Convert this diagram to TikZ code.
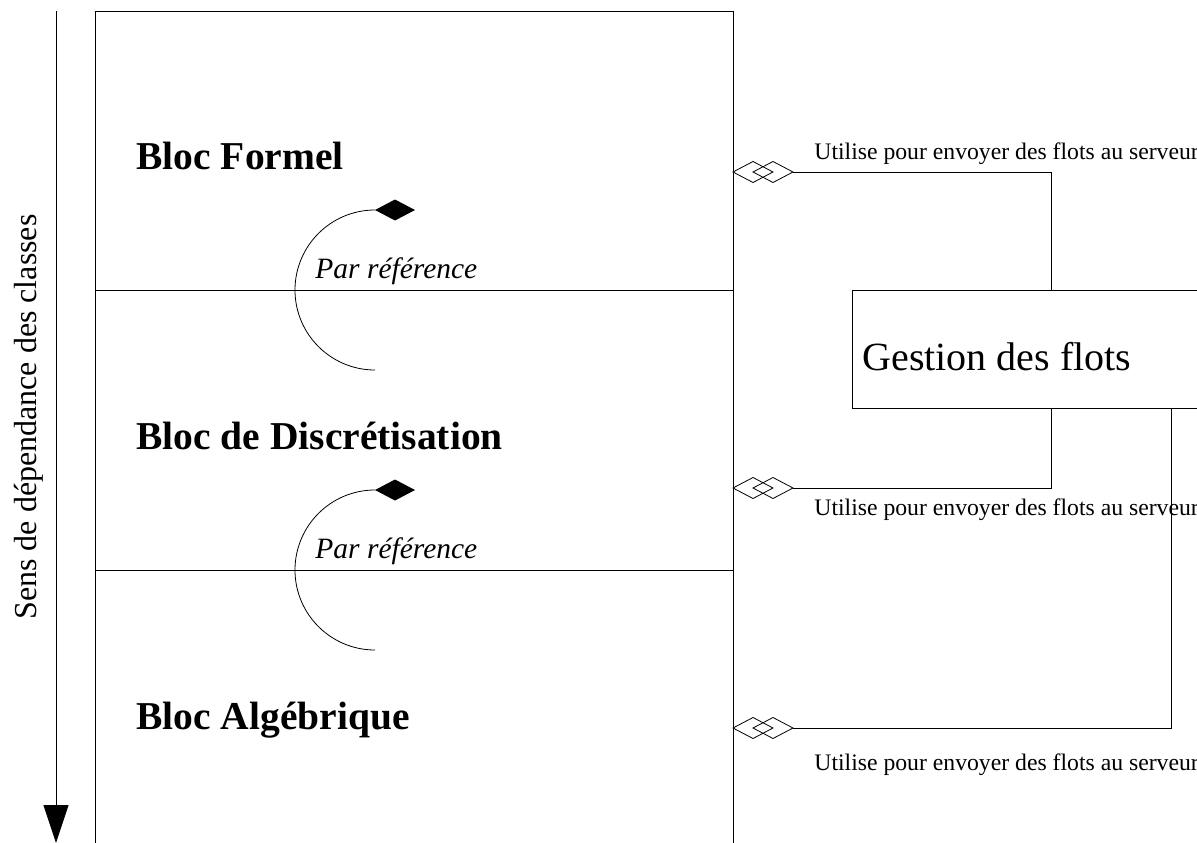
\documentclass[tikz,border=0pt]{standalone}
\usepackage{fontspec}
\setmainfont{Liberation Serif}
\usetikzlibrary{positioning,arrows.meta,calc}

\tikzset{
  bloc/.style={anchor=base west, font=\fontsize{39.5}{40}\selectfont\bfseries, inner sep=0pt},
  usage/.style={anchor=base west, font=\fontsize{23.7}{24}\selectfont, inner sep=0pt},
  refer/.style={anchor=base west, font=\fontsize{29.5}{30}\selectfont\itshape, inner sep=0pt},
  agreg/.pic={
    \draw[fill=white] (0,0) -- (20,-10.5) -- (40,0) -- (20,10.5) -- cycle;
    \draw (20,0) -- (40,-10.5) -- (60,0) -- (40,10.5) -- cycle;
  },
  compo/.pic={
    \fill (0,0) -- (20,-10.5) -- (40,0) -- (20,10.5) -- cycle;
  }
}

\begin{document}
\begin{tikzpicture}[x=1pt, y=-1pt, line width=0.8pt]
\useasboundingbox (0,0) rectangle (1197,843);

% sens de dependance
\coordinate (dtop) at (56,11);
\coordinate (dbot) at (56,843);
\draw[-{Triangle[width=25pt,length=38pt]}] (dtop) -- (dbot);
\node[rotate=90, font=\fontsize{32}{32}\selectfont] (sens) at (29,417)
  {Sens de dépendance des classes};

% les trois blocs
\draw (95,843) -- (95,11) -- (733,11) -- (733,843);
\draw (95,290) -- (733,290);
\draw (95,570) -- (733,570);
\node[bloc] (formel) at (136,169) {Bloc Formel};
\node[bloc] (discr) at (136,449) {Bloc de Discrétisation};
\node[bloc] (algeb) at (136,729) {Bloc Algébrique};

% references entre blocs
\foreach \y in {0,280}{
  \draw (375,370+\y) arc[start angle=90, end angle=270, radius=80];
  \pic at (375,210+\y) {compo};
  \node[refer] at (315,278+\y) {Par référence};
}

% gestion des flots
\node[draw, anchor=north west, minimum width=398pt, minimum height=118pt,
  inner sep=0pt] (gf) at (852,290) {};
\node[anchor=base west, font=\fontsize{40}{40}\selectfont, inner sep=0pt]
  (gft) at (862,370) {Gestion des flots};

\coordinate (u1) at (733,172);
\coordinate (u2) at (733,488);
\coordinate (u3) at (733,728);
\pic at (u1) {agreg};
\pic at (u2) {agreg};
\pic at (u3) {agreg};
\draw (gf.north) |- ([xshift=60pt]u1);
\draw (gf.south) |- ([xshift=60pt]u2);
\draw ([xshift=120pt]gf.south) |- ([xshift=60pt]u3);

\node[usage] (l1) at (814,159) {Utilise pour envoyer des flots au serveur};
\node[usage] (l2) at (814,515) {Utilise pour envoyer des flots au serveur};
\node[usage] (l3) at (814,770) {Utilise pour envoyer des flots au serveur};
\end{tikzpicture}
\end{document}
